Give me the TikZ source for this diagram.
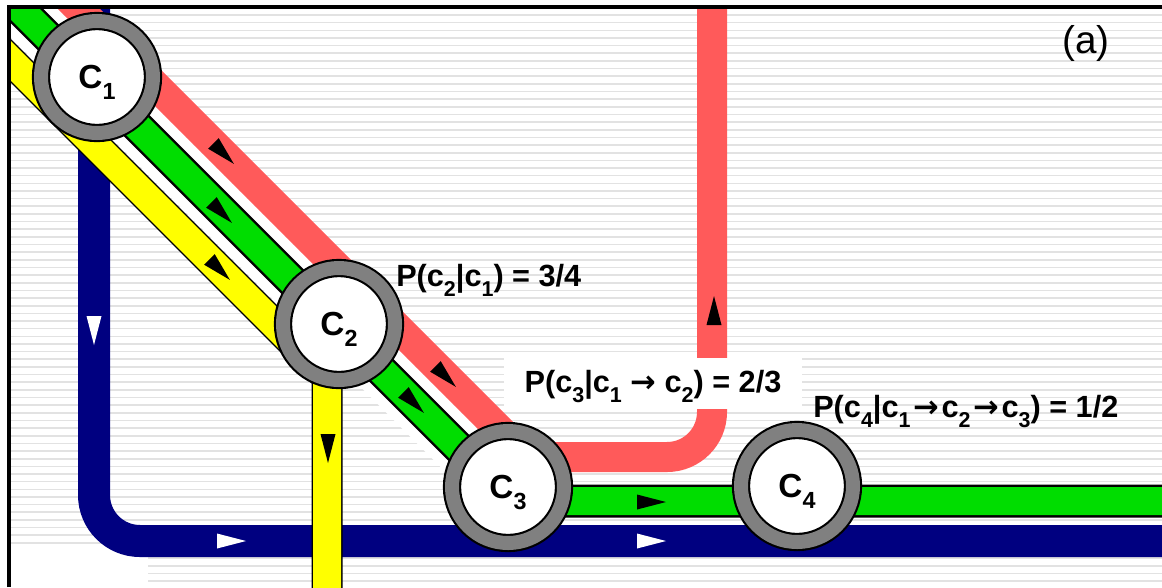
\documentclass[tikz,border=0pt]{standalone}
\usepackage{fontspec}
\setmainfont{Liberation Sans}
\newfontfamily\arrowfont{DejaVu Sans}
\usepackage{tikz}

\definecolor{metrored}{RGB}{255,90,90}
\definecolor{metrogreen}{RGB}{0,221,0}
\definecolor{metroblue}{RGB}{0,0,128}
\definecolor{metroyellow}{RGB}{255,255,0}
\definecolor{ringgray}{RGB}{128,128,128}
\definecolor{stripegray}{RGB}{226,226,226}

\newcommand{\lowsub}[1]{\raisebox{-0.34em}{\fontsize{0.7em}{1em}\selectfont #1}}
\newcommand{\goesto}{{\arrowfont\bfseries →}}

\begin{document}
\begin{tikzpicture}[
    x=0.75pt, y=-0.75pt,
    stripe/.style={stripegray, line width=1.2pt},
    station/.style={circle, draw=black, line width=1.6pt, double=ringgray, double distance=10.5pt,
        fill=white, inner sep=0pt, minimum size=84pt, text depth=0pt,
        font=\fontsize{25}{27}\selectfont\bfseries},
    prob/.style={inner sep=0pt, font=\fontsize{23}{26}\selectfont\bfseries},
    dirhead/.pic={\fill (14,0) -- (-15,7.5) -- (-15,-7.5) -- cycle;}
]
    \useasboundingbox (0,0) rectangle (1162,587);

    % striped background
    \fill[white] (0,0) rectangle (1162,587);
    \foreach \k in {0,...,74}
        \draw[stripe] (11,15+7.65*\k) -- (1162,15+7.65*\k);
    \fill[white] (11,545) rectangle (148,587);

    % track corners
    \coordinate (btop) at (94,0);
    \coordinate (bbend) at (94,495);
    \coordinate (bend) at (1170,541);
    \coordinate (rtop) at (712,0);
    \coordinate (rbend) at (712,412);
    \coordinate (rjoin) at (527,457);
    \coordinate (rfar) at (30,-40);
    \coordinate (gfar) at (-40,-51);
    \coordinate (gturn) at (512,501);
    \coordinate (gend) at (1170,501);
    \coordinate (yfar) at (-40,10);
    \coordinate (yturn) at (327,377);
    \coordinate (ybot) at (327,600);

    \begin{scope}
        \clip (9,7) rectangle (1162,587);
        % blue line
        \draw[metroblue, line width=24pt] (btop) -- (bbend)
            arc[start angle=180, end angle=90, radius=46] -- (bend);
        % red line
        \draw[metrored, line width=22.5pt] (rtop) -- (rbend)
            arc[start angle=0, end angle=90, radius=45] -- (rjoin) -- (rfar);
        % green line
        \draw[white, line width=39.75pt] (gfar) -- (gturn);
        \draw[black, line width=24.75pt] (gfar) -- (gturn) -- (gend);
        \draw[metrogreen, line width=21pt] (gfar) -- (gturn) -- (gend);
        % yellow line
        \draw[black, line width=23.25pt] (yfar) -- (yturn) -- (ybot);
        \draw[metroyellow, line width=21pt] (yfar) -- (yturn) -- (ybot);
    \end{scope}

    % frame
    \draw[line width=3pt] (9,587) -- (9,7) -- (1162,7);

    % stations
    \node[station] (c1) at (97,77) {C\lowsub{1}};
    \node[station] (c2) at (339,324) {C\lowsub{2}};
    \node[station] (c3) at (508,487) {C\lowsub{3}};
    \node[station] (c4) at (797,486) {C\lowsub{4}};

    % direction marks
    \pic[rotate=-45] at (224,154) {dirhead};
    \pic[rotate=-45] at (222,213) {dirhead};
    \pic[rotate=-45] at (220,270) {dirhead};
    \pic[rotate=-45] at (446,377) {dirhead};
    \pic[rotate=-45] at (414,403) {dirhead};
    \pic[rotate=-90] at (328,449) {dirhead};
    \pic[rotate=90] at (714,310) {dirhead};
    \pic at (652,502) {dirhead};
    \pic[white, rotate=-90] at (94,331) {dirhead};
    \pic[white] at (232,541) {dirhead};
    \pic[white] at (652,541) {dirhead};

    % probabilities
    \node[prob, anchor=base west] (p2) at (396,286) {P(c\lowsub{2}|c\lowsub{1}) = 3/4};
    \node[prob, anchor=base, fill=white, minimum width=224pt, text height=25.5pt, text depth=12.75pt]
        (p3) at (653,392) {P(c\lowsub{3}|c\lowsub{1} \goesto\ c\lowsub{2}) = 2/3};
    \node[prob, anchor=base west] (p4) at (813,417)
        {P(c\lowsub{4}|c\lowsub{1}\kern2pt\goesto\kern2pt c\lowsub{2}\kern2pt\goesto\kern2pt c\lowsub{3}) = 1/2};

    \node[inner sep=0pt, anchor=base west, font=\fontsize{29}{32}\selectfont] (tag) at (1062,53) {(a)};
\end{tikzpicture}
\end{document}
